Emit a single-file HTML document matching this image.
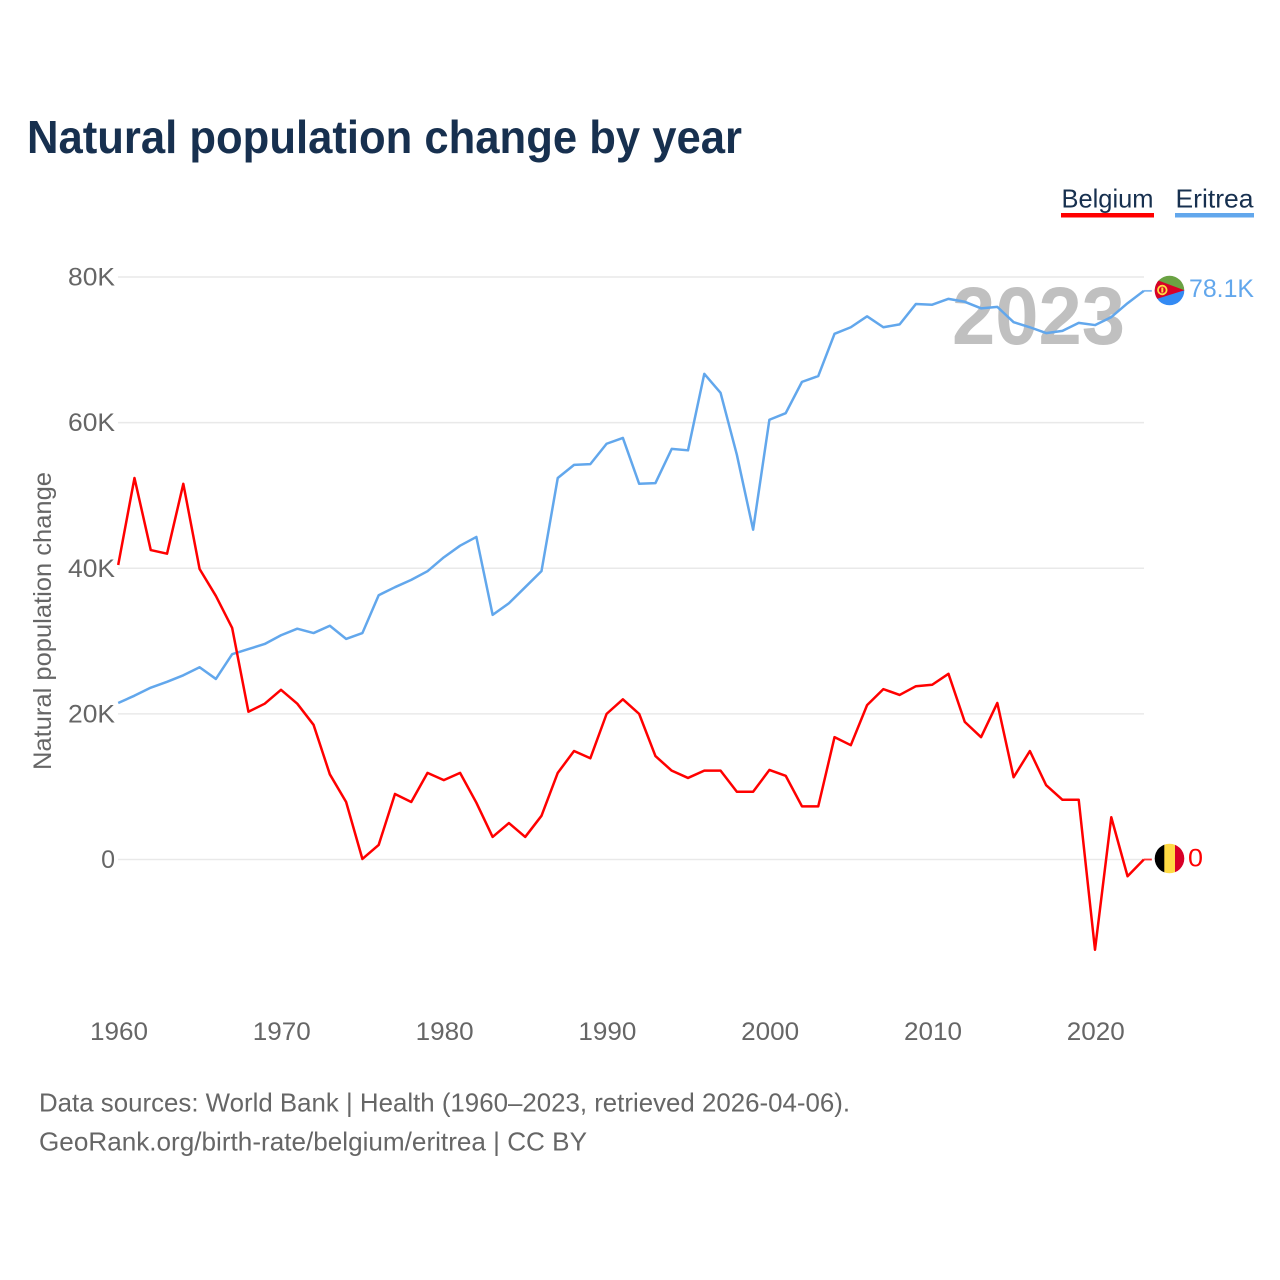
<!DOCTYPE html>
<html lang="en">
<head>
<meta charset="utf-8">
<title>Natural population change by year</title>
<style>
html,body{margin:0;padding:0;background:#fff;width:1280px;height:1280px;overflow:hidden}
svg{display:block}
text{font-family:"Liberation Sans",sans-serif}
</style>
</head>
<body>
<svg id="chart" xmlns="http://www.w3.org/2000/svg" width="1280" height="1280" viewBox="0 0 1280 1280">
  <rect width="1280" height="1280" fill="#fff"/>
  <text x="27" y="153" font-size="46" font-weight="700" fill="#17304f" textLength="715" lengthAdjust="spacingAndGlyphs">Natural population change by year</text>

  <g>
    <g>
      <text x="1061.5" y="207.5" font-size="26" fill="#17304f" textLength="92" lengthAdjust="spacingAndGlyphs">Belgium</text>
      <rect x="1061" y="213" width="93" height="4.5" fill="#ff0000"/>
    </g>
    <g>
      <text x="1175.5" y="207.5" font-size="26" fill="#17304f" textLength="78" lengthAdjust="spacingAndGlyphs">Eritrea</text>
      <rect x="1175" y="213" width="79" height="4.5" fill="#62a7ec"/>
    </g>
  </g>

  <g id="grid"></g>
  <g id="yticks"></g>
  <g id="xticks"></g>
  <text transform="translate(51,621) rotate(-90)" text-anchor="middle" font-size="25" fill="#666" textLength="298" lengthAdjust="spacingAndGlyphs">Natural population change</text>

  <text x="952" y="344" font-size="82" font-weight="700" fill="#c0c0c0" textLength="173" lengthAdjust="spacingAndGlyphs">2023</text>

  <g id="series"></g>

  <defs>
    <clipPath id="clip-er"><circle cx="1169.5" cy="290.5" r="14.8"/></clipPath>
    <clipPath id="clip-be"><circle cx="1169.5" cy="858.5" r="14.8"/></clipPath>
  </defs>
  <g clip-path="url(#clip-er)">
    <rect x="1154" y="275" width="31" height="15.5" fill="#6aa243"/>
    <rect x="1154" y="290.5" width="31" height="16" fill="#338af3"/>
    <polygon points="1150,277.5 1184.5,290.3 1150,301" fill="#d80027"/>
    <circle cx="1162.3" cy="290" r="4.3" fill="none" stroke="#ffda44" stroke-width="1.8"/>
    <rect x="1161.3" y="287.5" width="2" height="5" fill="#ffda44"/>
  </g>
  <g clip-path="url(#clip-be)">
    <rect x="1154" y="843" width="10.5" height="32" fill="#000"/>
    <rect x="1164.3" y="843" width="10.9" height="32" fill="#ffda44"/>
    <rect x="1175" y="843" width="11" height="32" fill="#d80027"/>
  </g>
  <g id="endlabels"></g>

  <text x="39" y="1111.5" font-size="26" fill="#666" textLength="811" lengthAdjust="spacingAndGlyphs">Data sources: World Bank | Health (1960–2023, retrieved 2026-04-06).</text>
  <text x="39" y="1150.5" font-size="26" fill="#666" textLength="548" lengthAdjust="spacingAndGlyphs">GeoRank.org/birth-rate/belgium/eritrea | CC BY</text>
</svg>
<script>
const startYear = 1960;
const belgium = [40.45,52.4,42.5,42.0,51.6,39.9,36.2,31.8,20.3,21.4,23.3,21.4,18.5,11.7,7.9,0.07,2.0,9.0,7.9,11.9,10.9,11.9,7.8,3.1,5.0,3.1,6.0,11.9,14.9,13.9,20.0,22.0,20.0,14.2,12.2,11.2,12.2,12.2,9.3,9.3,12.3,11.5,7.3,7.3,16.8,15.7,21.2,23.4,22.6,23.8,24.0,25.5,18.9,16.8,21.5,11.3,14.9,10.2,8.2,8.2,-12.4,5.8,-2.3,0];
const eritrea = [21.5,22.5,23.6,24.4,25.3,26.4,24.8,28.2,28.9,29.6,30.8,31.7,31.1,32.1,30.3,31.1,36.3,37.4,38.4,39.6,41.5,43.1,44.3,33.6,35.2,37.4,39.6,52.4,54.2,54.3,57.1,57.9,51.6,51.7,56.4,56.2,66.7,64.1,55.6,45.3,60.4,61.3,65.6,66.4,72.2,73.1,74.6,73.1,73.5,76.3,76.2,77.0,76.6,75.7,75.9,73.8,73.1,72.3,72.6,73.7,73.4,74.5,76.4,78.1];
const yTickValues = [0,20,40,60,80];
const xTickYears = [1960,1970,1980,1990,2000,2010,2020];

const NS = 'http://www.w3.org/2000/svg';
function xScale(year){ return 118.2 + (year - 1960) * 16.28; }
function yScale(v){ return 859.5 - v * 7.281; }
function make(tag, attrs, parent, txt){
  const el = document.createElementNS(NS, tag);
  for (const k in attrs) el.setAttribute(k, attrs[k]);
  if (txt !== undefined) el.textContent = txt;
  parent.appendChild(el);
  return el;
}
function fmt(v){ return v === 0 ? '0' : (Number.isInteger(v) ? v : v.toFixed(1)) + 'K'; }

const grid = document.getElementById('grid');
const yticks = document.getElementById('yticks');
const xticks = document.getElementById('xticks');
const seriesG = document.getElementById('series');
const endG = document.getElementById('endlabels');

yTickValues.forEach(function(v){
  const line = make('line', {x1:118, x2:1144, y1:yScale(v), y2:yScale(v), stroke:'#e9e9e9', 'stroke-width':1.5}, grid);
  
  
  const label = fmt(v);
  const attrs = {x:115, y:yScale(v)+8.5, 'text-anchor':'end', 'font-size':25, fill:'#666'};
  if (label !== '0') attrs.textLength = 47;
  if (label !== '0') attrs.lengthAdjust = 'spacingAndGlyphs';
  const t = make('text', attrs, yticks, label);
  
  
});

xTickYears.forEach(function(y){
  const t = make('text', {x:xScale(y)+0.8, y:1040, 'text-anchor':'middle', 'font-size':25, fill:'#666', textLength:58, lengthAdjust:'spacingAndGlyphs'}, xticks, String(y));
  
  
});

function pathFor(values){
  return values.map(function(v, i){
    return (i ? 'L' : 'M') + xScale(startYear + i).toFixed(2) + ' ' + yScale(v).toFixed(2);
  }).join(' ');
}
function drawSeries(values, color, name, labelX, labelDy, labelWidth){
  const last = values[values.length - 1];
  const lastX = xScale(startYear + values.length - 1);
  const p = make('path', {d:pathFor(values), fill:'none', stroke:color, 'stroke-width':2.5, 'stroke-linejoin':'round'}, seriesG);
  
  
  const c = make('line', {x1:lastX, x2:lastX + 8, y1:yScale(last), y2:yScale(last), stroke:color, 'stroke-width':1.8, opacity:0.8}, seriesG);
  
  
  const t = make('text', {x:labelX, y:yScale(last)+labelDy, 'font-size':25, fill:color, textLength:labelWidth, lengthAdjust:'spacingAndGlyphs'}, endG, fmt(last));
  
  
}
drawSeries(eritrea, '#62a7ec', 'eritrea', 1189, 6, 65);
drawSeries(belgium, '#ff0000', 'belgium', 1188, 7, 15);
</script>
</body>
</html>
